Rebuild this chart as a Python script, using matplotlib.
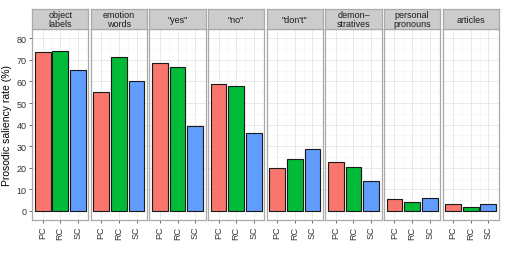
import matplotlib
matplotlib.use("Agg")
import matplotlib.pyplot as plt
import numpy as np

plt.rcParams['font.family'] = ['Liberation Sans', 'DejaVu Sans']

panels = ["object\nlabels", "emotion\nwords", "\"yes\"", "\"no\"", "\"don't\"",
          "demon–\nstratives", "personal\npronouns", "articles"]
groups = ["PC", "RC", "SC"]
PC = [73.5, 55.0, 68.4, 58.9, 19.7, 22.5, 5.3, 3.0]
RC = [74.0, 71.2, 66.5, 58.0, 23.9, 20.5, 4.2, 2.0]
SC = [65.3, 60.0, 39.4, 36.0, 28.7, 13.8, 5.8, 3.0]
colors = ["#F8766D", "#00BA38", "#619CFF"]
yticks = [0, 10, 20, 30, 40, 50, 60, 70, 80]

W, H = 510, 255
fig = plt.figure(figsize=(W/100, H/100), dpi=100)

left, right = 32, 499
gap = 2.2
n = len(panels)
pw = (right - left - gap*(n-1)) / n
ptop, pbot = 30, 221
stop = 10

for i in range(n):
    x0 = left + i*(pw+gap)
    ax = fig.add_axes([x0/W, 1-pbot/H, pw/W, (pbot-ptop)/H])
    vals = [PC[i], RC[i], SC[i]]
    ax.bar(np.arange(1, 4), vals, width=0.9, color=colors, edgecolor="#1a1a1a", linewidth=0.8, zorder=3)
    ax.set_xlim(0.4, 3.6)
    ax.set_ylim(-4.2, 84.3)
    ax.set_xticks([1, 2, 3])
    ax.set_xticklabels(groups, rotation=90, fontsize=6.5, color="#333333")
    ax.set_yticks(yticks)
    ax.set_yticks([5, 15, 25, 35, 45, 55, 65, 75], minor=True)
    ax.set_xticks([1.5, 2.5], minor=True)
    ax.grid(True, which="major", color="#E5E5E5", linewidth=0.6, zorder=0)
    ax.grid(True, which="minor", color="#F4F4F4", linewidth=0.5, zorder=0)
    ax.tick_params(axis="both", which="major", length=2.5, width=0.6, color="#555555", pad=1.5)
    ax.tick_params(axis="both", which="minor", length=0)
    if i == 0:
        ax.set_yticklabels([str(v) for v in yticks], fontsize=6.5, color="#333333")
        ax.set_ylabel("Prosodic saliency rate (%)", fontsize=7.5, labelpad=3)
    else:
        ax.tick_params(axis="y", which="major", length=0, labelleft=False)
    for s in ax.spines.values():
        s.set_color("#AAAAAA")
        s.set_linewidth(0.9)
    # strip
    sx = fig.add_axes([x0/W, 1-ptop/H, pw/W, (ptop-stop)/H])
    sx.set_facecolor("#CCCCCC")
    sx.set_xticks([]); sx.set_yticks([])
    for s in sx.spines.values():
        s.set_color("#AAAAAA")
        s.set_linewidth(0.9)
    sx.text(0.5, 0.5, panels[i], ha="center", va="center", fontsize=6.5,
            color="#1a1a1a", linespacing=0.95, transform=sx.transAxes)

fig.savefig("out.png", dpi=100)
